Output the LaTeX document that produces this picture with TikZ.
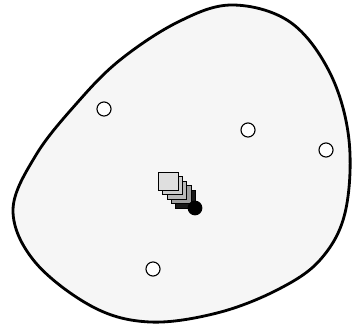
\documentclass[tikz,border=0pt]{standalone}
\usetikzlibrary{calc, positioning}
\begin{document}
\begin{tikzpicture}[x=0.025cm, y=-0.025cm,
  hole/.style={circle, draw, thick, fill=white, inner sep=0pt, minimum size=10pt},
  tile/.style={draw, inner sep=0pt, minimum width=14pt, minimum height=12.5pt}]
\useasboundingbox (0, 0) rectangle (353, 326);
% outline of the region
\draw[line width=2pt, fill=gray!7] plot[smooth cycle, tension=0.6] coordinates {
  (232, 5) (290, 22) (330, 73) (349, 140) (345, 213) (320, 260) (277, 290)
  (217, 313) (150, 322) (93, 307) (35, 262) (13, 210) (36, 155)
  (77, 103) (120, 60) (178, 22)};

\node[hole] (A) at (104, 109) {};
\node[hole] (B) at (248, 130) {};
\node[hole] (C) at (326, 150) {};
\node[hole] (D) at (153, 269) {};

% stack of tiles
\foreach \k/\shade in {4/black!90, 3/gray!75, 2/gray!55, 1/gray!40, 0/gray!25} {
  \node[tile, fill=\shade, anchor=north west] (T\k) at ({158 + 4.3*\k}, {172 + 4.5*\k}) {};
}
\node[circle, fill=black, inner sep=0pt, minimum size=10.5pt] (P) at (195, 208) {};
\end{tikzpicture}
\end{document}
